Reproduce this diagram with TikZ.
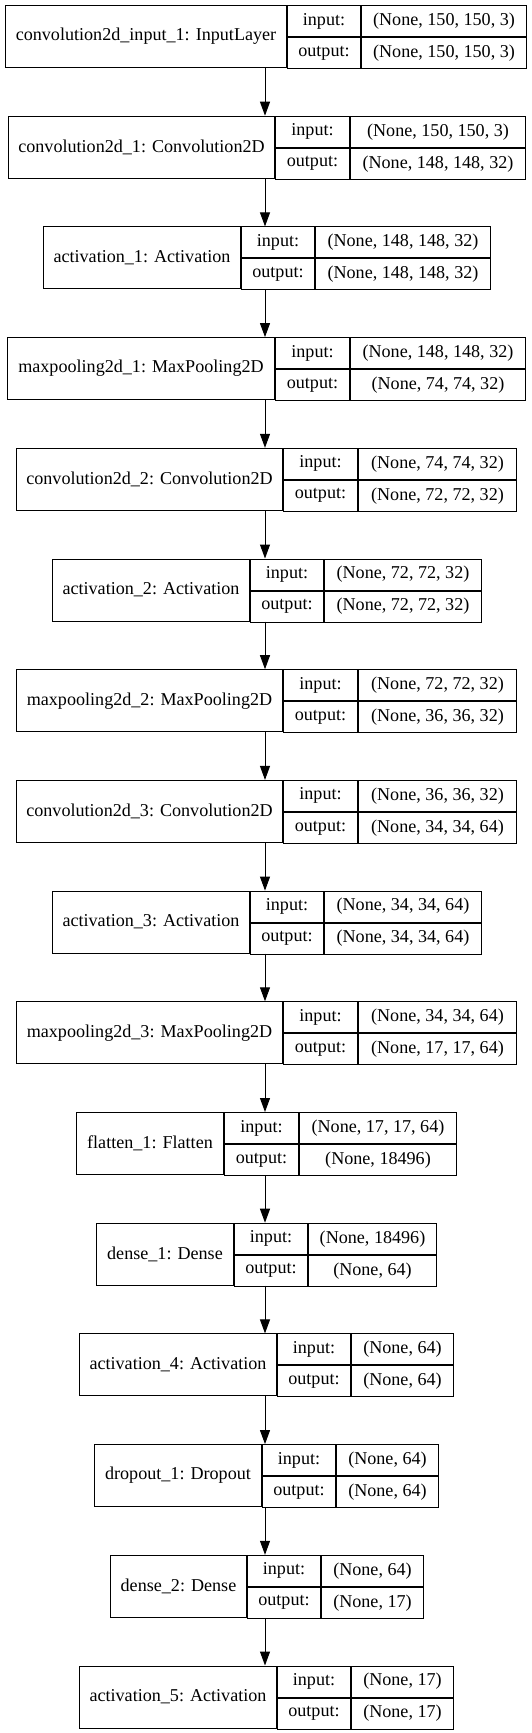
\documentclass[tikz,border=0pt]{standalone}
\usepackage{fontspec}
\setmainfont{Liberation Serif}
\usetikzlibrary{arrows.meta}

\begin{document}
\begin{tikzpicture}[x=1pt, y=1pt,
  cell/.style={draw, line width=1pt, inner sep=0pt, minimum height=62pt},
  halfcell/.style={cell, minimum height=31pt},
  flow/.style={line width=1pt, -{Triangle[length=14pt, width=10pt]}},
  font=\fontsize{18.1}{20}\selectfont]
  % page 531 x 1733 px, 1 px = 1 pt
  \useasboundingbox (0,0) rectangle (531,-1733);
  \coordinate (axis) at (265,0);

  % layers: left edge, first divider, second divider, right edge, name, input, output
  \foreach \i/\xa/\xb/\xc/\xd/\lab/\inp/\outp in {
    1/5/286/359/524/{convolution2d\_input\_1: InputLayer}/{(None, 150, 150, 3)}/{(None, 150, 150, 3)},
    2/8/274/348/523/{convolution2d\_1: Convolution2D}/{(None, 150, 150, 3)}/{(None, 148, 148, 32)},
    3/43/240/313/488/{activation\_1: Activation}/{(None, 148, 148, 32)}/{(None, 148, 148, 32)},
    4/7/274/348/523/{maxpooling2d\_1: MaxPooling2D}/{(None, 148, 148, 32)}/{(None, 74, 74, 32)},
    5/16/282/356/514/{convolution2d\_2: Convolution2D}/{(None, 74, 74, 32)}/{(None, 72, 72, 32)},
    6/52/249/322/479/{activation\_2: Activation}/{(None, 72, 72, 32)}/{(None, 72, 72, 32)},
    7/16/282/356/514/{maxpooling2d\_2: MaxPooling2D}/{(None, 72, 72, 32)}/{(None, 36, 36, 32)},
    8/16/282/356/514/{convolution2d\_3: Convolution2D}/{(None, 36, 36, 32)}/{(None, 34, 34, 64)},
    9/52/249/322/479/{activation\_3: Activation}/{(None, 34, 34, 64)}/{(None, 34, 34, 64)},
    10/16/282/356/514/{maxpooling2d\_3: MaxPooling2D}/{(None, 34, 34, 64)}/{(None, 17, 17, 64)},
    11/76/223/297/454/{flatten\_1: Flatten}/{(None, 17, 17, 64)}/{(None, 18496)},
    12/96/233/306/434/{dense\_1: Dense}/{(None, 18496)}/{(None, 64)},
    13/79/276/349/451/{activation\_4: Activation}/{(None, 64)}/{(None, 64)},
    14/94/261/334/436/{dropout\_1: Dropout}/{(None, 64)}/{(None, 64)},
    15/110/246/319/421/{dense\_2: Dense}/{(None, 64)}/{(None, 17)},
    16/79/276/349/451/{activation\_5: Activation}/{(None, 17)}/{(None, 17)}} {
    \pgfmathsetmacro{\yt}{-5-110.7*(\i-1)}
    \node[cell, minimum width=\xb-\xa, anchor=north west] (L\i) at (\xa,\yt) {\lab};
    \node[halfcell, minimum width=\xc-\xb, anchor=north west] (L\i in) at (L\i.north east) {input:};
    \node[halfcell, minimum width=\xc-\xb, anchor=north west] (L\i out) at (L\i in.south west) {output:};
    \node[halfcell, minimum width=\xd-\xc, anchor=north west] (L\i inv) at (L\i in.north east) {\inp};
    \node[halfcell, minimum width=\xd-\xc, anchor=north west] (L\i outv) at (L\i inv.south west) {\outp};
  }

  % connectors
  \foreach \i [evaluate=\i as \j using int(\i+1)] in {1,...,15}
    \draw[flow] (L\i.south -| axis) -- (L\j.north -| axis);
\end{tikzpicture}
\end{document}
